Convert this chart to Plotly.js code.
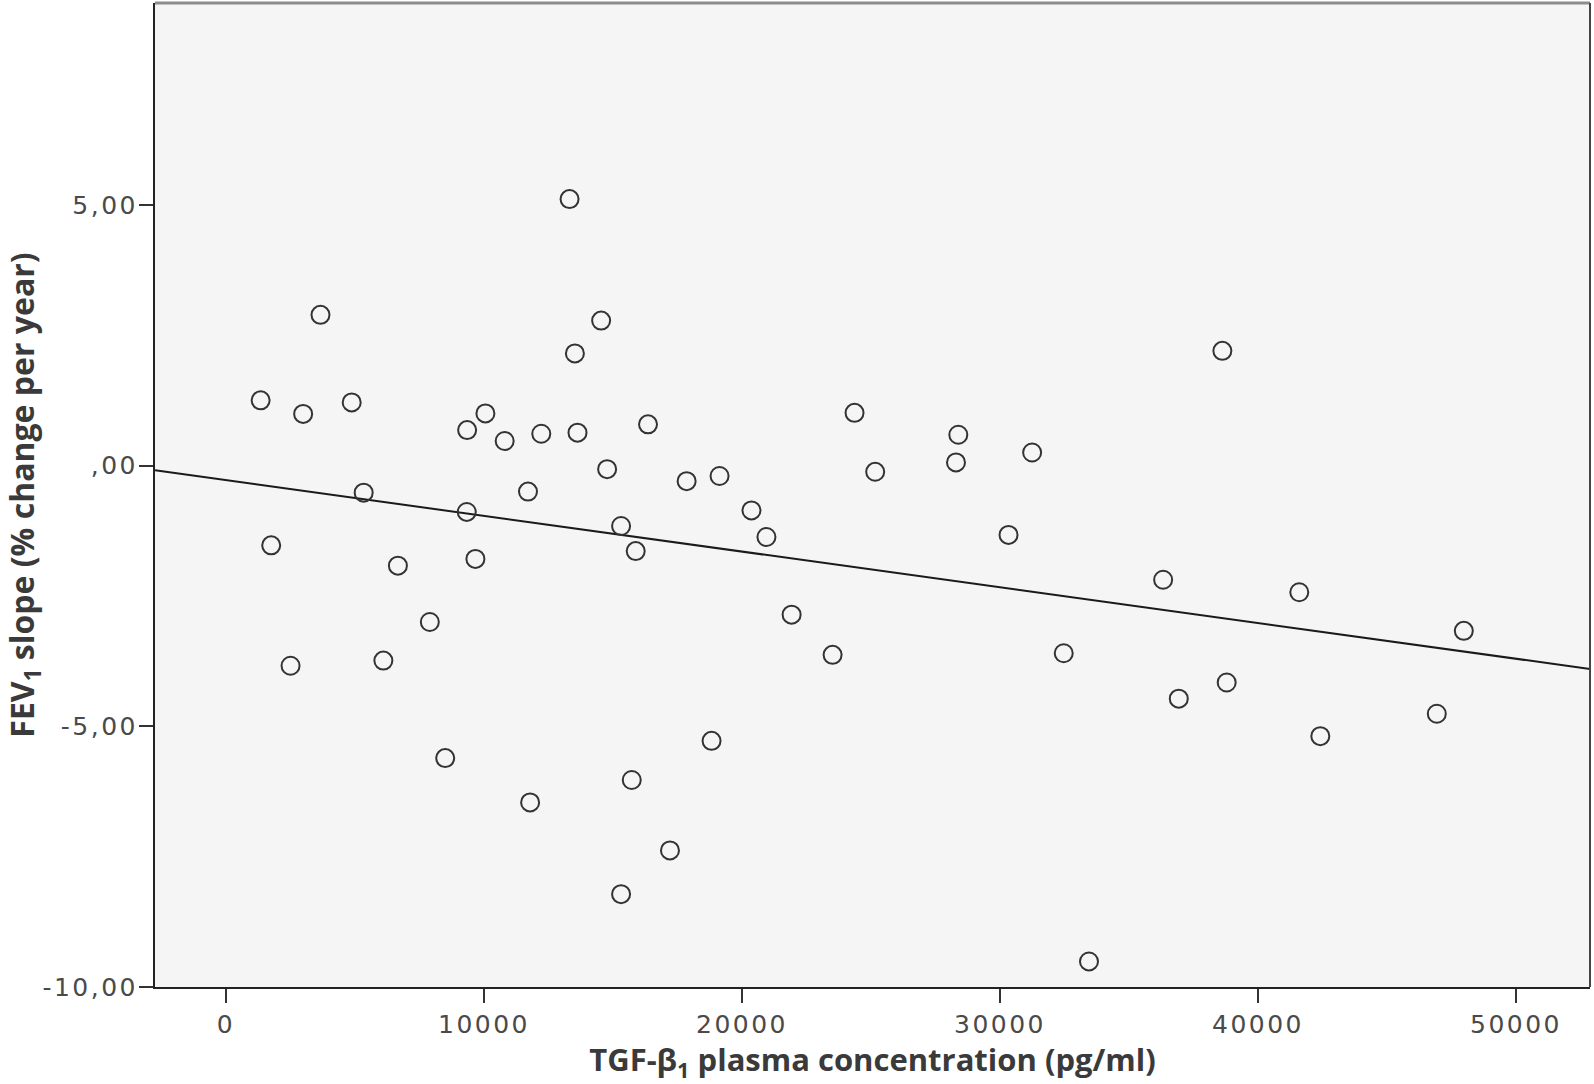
<!DOCTYPE html>
<html>
<head>
<meta charset="utf-8">
<script src="https://cdn.plot.ly/plotly-3.0.1.min.js"></script>
<style>
  html, body { margin: 0; padding: 0; background: #ffffff; }
  #chart { width: 1594px; height: 1084px; }
  .xtick text, .ytick text { letter-spacing: 2.5px; }
</style>
</head>
<body>
<div id="chart"></div>
<script>
// TGF-beta1 plasma concentration (pg/ml)
const tgfConcentration = [
  1342, 2990, 3662, 4872, 1752, 2502, 5336, 6663, 6099, 7900,
  8496, 9346, 9331, 9667, 10054, 10801, 11705, 12220, 11787, 13316,
  13523, 13624, 14540, 14772, 15313, 15880, 16357, 15727, 15313, 17854,
  19130, 17208, 18820, 20367, 20947, 21923, 23511, 24362, 25162, 28384,
  28294, 31245, 30330, 32470, 33449, 36323, 36929, 38619, 38786, 41600,
  42415, 46930, 47977
];
// FEV1 slope (% change per year)
const fev1Slope = [
  1.25, 0.99, 2.89, 1.21, -1.53, -3.84, -0.52, -1.92, -3.74, -3.00,
  -5.61, 0.68, -0.89, -1.79, 1.00, 0.47, -0.50, 0.61, -6.46, 5.11,
  2.15, 0.63, 2.78, -0.07, -1.16, -1.64, 0.79, -6.03, -8.22, -0.30,
  -0.20, -7.38, -5.28, -0.86, -1.37, -2.86, -3.63, 1.01, -0.12, 0.59,
  0.06, 0.25, -1.33, -3.60, -9.51, -2.19, -4.47, 2.20, -4.16, -2.43,
  -5.19, -4.76, -3.17
];
// Fitted regression line
const fitIntercept = -0.28;
const fitSlope = -0.0000685;

// Axis ranges and ticks
const xRange = [-2752, 52868];
const yRange = [-10, 8.87];
const xTickValues = [0, 10000, 20000, 30000, 40000, 50000];
const xTickLabels = ['0', '10000', '20000', '30000', '40000', '50000'];
const yTickValues = [-10, -5, 0, 5];
const yTickLabels = ['-10,00', '-5,00', ',00', '5,00'];

const fitX = xRange.slice();
const fitY = fitX.map(x => fitIntercept + fitSlope * x);

const tickFont = { family: 'DejaVu Sans', size: 25, color: '#4a4a4a' };

const traces = [
  {
    type: 'scatter', mode: 'lines',
    x: fitX, y: fitY,
    line: { color: '#1a1a1a', width: 2 },
    hoverinfo: 'skip', showlegend: false
  },
  {
    type: 'scatter', mode: 'markers',
    x: tgfConcentration, y: fev1Slope,
    marker: { symbol: 'circle-open', size: 18, color: '#333333', line: { width: 2 } },
    showlegend: false
  }
];

const layout = {
  width: 1594, height: 1084, autosize: false,
  margin: { l: 155, r: 4, t: 3, b: 97, pad: 0 },
  paper_bgcolor: '#ffffff',
  plot_bgcolor: '#f5f5f5',
  showlegend: false,
  xaxis: {
    range: xRange, autorange: false,
    tickmode: 'array', tickvals: xTickValues, ticktext: xTickLabels,
    ticks: 'outside', ticklen: 14, tickwidth: 2, tickcolor: '#333333',
    showline: true, linecolor: '#222222', linewidth: 2,
    showgrid: false, zeroline: false,
    tickfont: tickFont,
    title: {
      text: 'TGF-β<sub>1</sub> plasma concentration (pg/ml)',
      font: { family: 'Open Sans', size: 31, color: '#3a3a3a', weight: 'bold' },
      standoff: 12
    }
  },
  yaxis: {
    range: yRange, autorange: false,
    tickmode: 'array', tickvals: yTickValues, ticktext: yTickLabels,
    ticks: 'outside', ticklen: 14, tickwidth: 2, tickcolor: '#333333',
    ticklabelstandoff: -4,
    showline: true, linecolor: '#222222', linewidth: 2,
    showgrid: false, zeroline: false,
    tickfont: tickFont,
    title: {
      text: 'FEV<sub>1</sub> slope (% change per year)',
      font: { family: 'Open Sans', size: 32, color: '#3a3a3a', weight: 'bold' },
      standoff: 10
    }
  },
  shapes: [
    { type: 'line', xref: 'paper', yref: 'paper', x0: 0, x1: 1, y0: 1, y1: 1,
      line: { color: '#8c8c8c', width: 3 } },
    { type: 'line', xref: 'paper', yref: 'paper', x0: 1, x1: 1, y0: 0, y1: 1,
      line: { color: '#444444', width: 2 } }
  ]
};

Plotly.newPlot('chart', traces, layout, { displayModeBar: false, staticPlot: true });
</script>
</body>
</html>
